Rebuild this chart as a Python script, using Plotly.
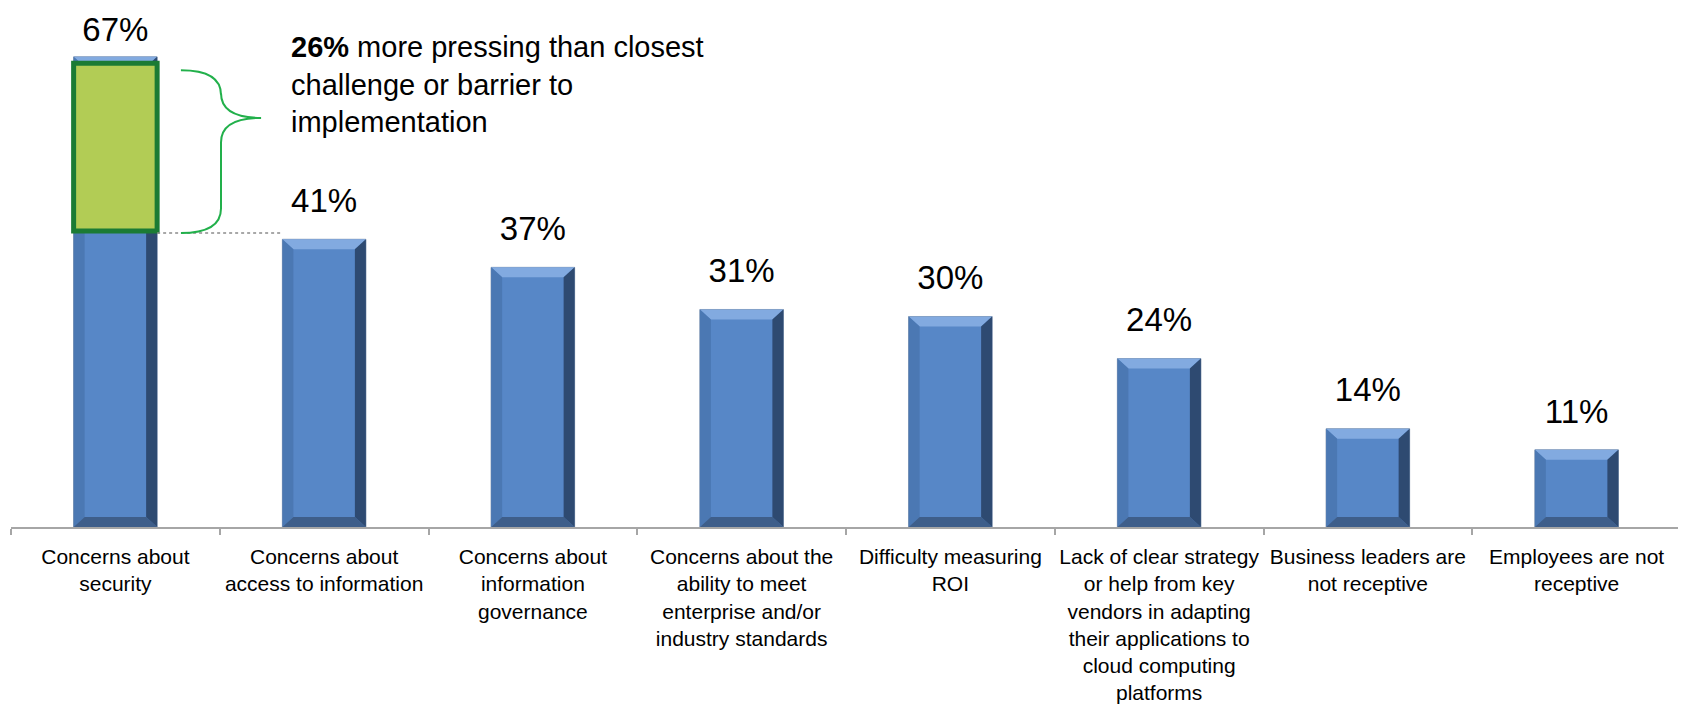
import plotly.graph_objects as go

# ---------------- data ----------------
categories = [
    "Concerns about<br>security",
    "Concerns about<br>access to information",
    "Concerns about<br>information<br>governance",
    "Concerns about the<br>ability to meet<br>enterprise and/or<br>industry standards",
    "Difficulty measuring<br>ROI",
    "Lack of clear strategy<br>or help from key<br>vendors in adapting<br>their applications to<br>cloud computing<br>platforms",
    "Business leaders are<br>not receptive",
    "Employees are not<br>receptive",
]
values = [67, 41, 37, 31, 30, 24, 14, 11]
value_labels = [f"{v}%" for v in values]
callout_text = "<b>26%</b> more pressing than closest<br>challenge or barrier to<br>implementation"

# ---------------- layout constants ----------------
# page has an 8px body margin, so the figure is sized to fill the rest of the window
W, H = 1678, 703
ML, MR, MT, MB = 3, 5, 0, 184
PX_PER_PCT = 7.017
Y_MAX = (H - MT - MB) / PX_PER_PCT
BAR_W = 0.40
FONT = "Liberation Sans, Arial, sans-serif"
LABEL_SIZE = 33

px_x = (W - ML - MR) / len(values)      # pixels per category unit
px_y = PX_PER_PCT

xs = list(range(len(values)))

fig = go.Figure()
fig.add_trace(go.Bar(
    x=xs, y=values, width=BAR_W,
    marker=dict(color="#5787C7", line=dict(color="#8497B0", width=1)),
    hoverinfo="skip",
))

# value labels: baseline ~24px above each bar, kept inside the figure
label_y = []
for v in values:
    top_px = (Y_MAX - v) * px_y
    baseline_px = max(top_px - 24, 1.1 * LABEL_SIZE)
    center_px = baseline_px - 0.35 * LABEL_SIZE
    label_y.append(Y_MAX - center_px / px_y)
fig.add_trace(go.Scatter(
    x=xs, y=label_y, text=value_labels, mode="text",
    textposition="middle center", cliponaxis=False,
    textfont=dict(size=LABEL_SIZE, color="#000000", family=FONT),
    hoverinfo="skip",
))

shapes = []
# bevel effect on each bar (derived from the data values)
bx = 11 / px_x
by = 10 / px_y
for i, v in zip(xs, values):
    L, R, T, B = i - BAR_W / 2, i + BAR_W / 2, v, 0
    bands = [
        (f"M {L},{T} L {R},{T} L {R-bx},{T-by} L {L+bx},{T-by} Z", "#82AAE0"),
        (f"M {L},{T} L {L+bx},{T-by} L {L+bx},{B+by} L {L},{B} Z", "#4B78B3"),
        (f"M {L},{B} L {R},{B} L {R-bx},{B+by} L {L+bx},{B+by} Z", "#3E5E8A"),
        (f"M {R},{T} L {R},{B} L {R-bx},{B+by} L {R-bx},{T-by} Z", "#2E4A71"),
    ]
    for p, c in bands:
        shapes.append(dict(type="path", path=p, xref="x", yref="y",
                           fillcolor=c, line=dict(width=0), layer="above"))

# highlight box for the difference between first and second bar
box_top = values[0] - 0.9
box_bot = values[1] + 1.2
shapes.append(dict(type="rect", xref="x", yref="y",
                   x0=-BAR_W / 2, x1=BAR_W / 2, y0=box_bot, y1=box_top,
                   fillcolor="#B2CC55", line=dict(color="#1B7B34", width=5)))
# dotted reference line
shapes.append(dict(type="line", xref="x", yref="y",
                   x0=BAR_W / 2, x1=0.79, y0=box_bot - 0.3, y1=box_bot - 0.3,
                   line=dict(color="#8C8C8C", width=1.5, dash="dot")))
# curly brace
tip, spine, point = 0.314, 0.506, 0.698
top, bot = values[0] - 1.9, values[1] + 0.9
mid = 58.3
ry = 3.5
brace = (f"M {tip},{top} Q {spine},{top} {spine},{top-ry} "
         f"L {spine},{mid+ry} Q {spine},{mid} {point},{mid} "
         f"Q {spine},{mid} {spine},{mid-ry} "
         f"L {spine},{bot+ry} Q {spine},{bot} {tip},{bot}")
shapes.append(dict(type="path", path=brace, xref="x", yref="y",
                   line=dict(color="#22B04B", width=2)))

annotations = [dict(x=0.832, y=63.1, text=callout_text, showarrow=False,
                    xanchor="left", yanchor="middle", align="left",
                    font=dict(size=29, color="#000000", family=FONT))]

fig.update_layout(
    width=W, height=H,
    margin=dict(l=ML, r=MR, t=MT, b=MB),
    paper_bgcolor="white", plot_bgcolor="white",
    showlegend=False,
    shapes=shapes, annotations=annotations,
    xaxis=dict(
        range=[-0.5, len(values) - 0.5],
        tickvals=xs, ticktext=categories, ticks="",
        ticklabelstandoff=10,
        tickfont=dict(size=21, color="#000000", family=FONT),
        showline=True, linecolor="#A6A6A6", linewidth=1.5,
        showgrid=False, zeroline=False,
        minor=dict(tickvals=[i - 0.5 for i in range(len(values) + 1)],
                   ticks="outside", ticklen=6, tickcolor="#A6A6A6", tickwidth=1.5),
    ),
    yaxis=dict(range=[0, Y_MAX], visible=False),
)

fig.write_html("out.html")
